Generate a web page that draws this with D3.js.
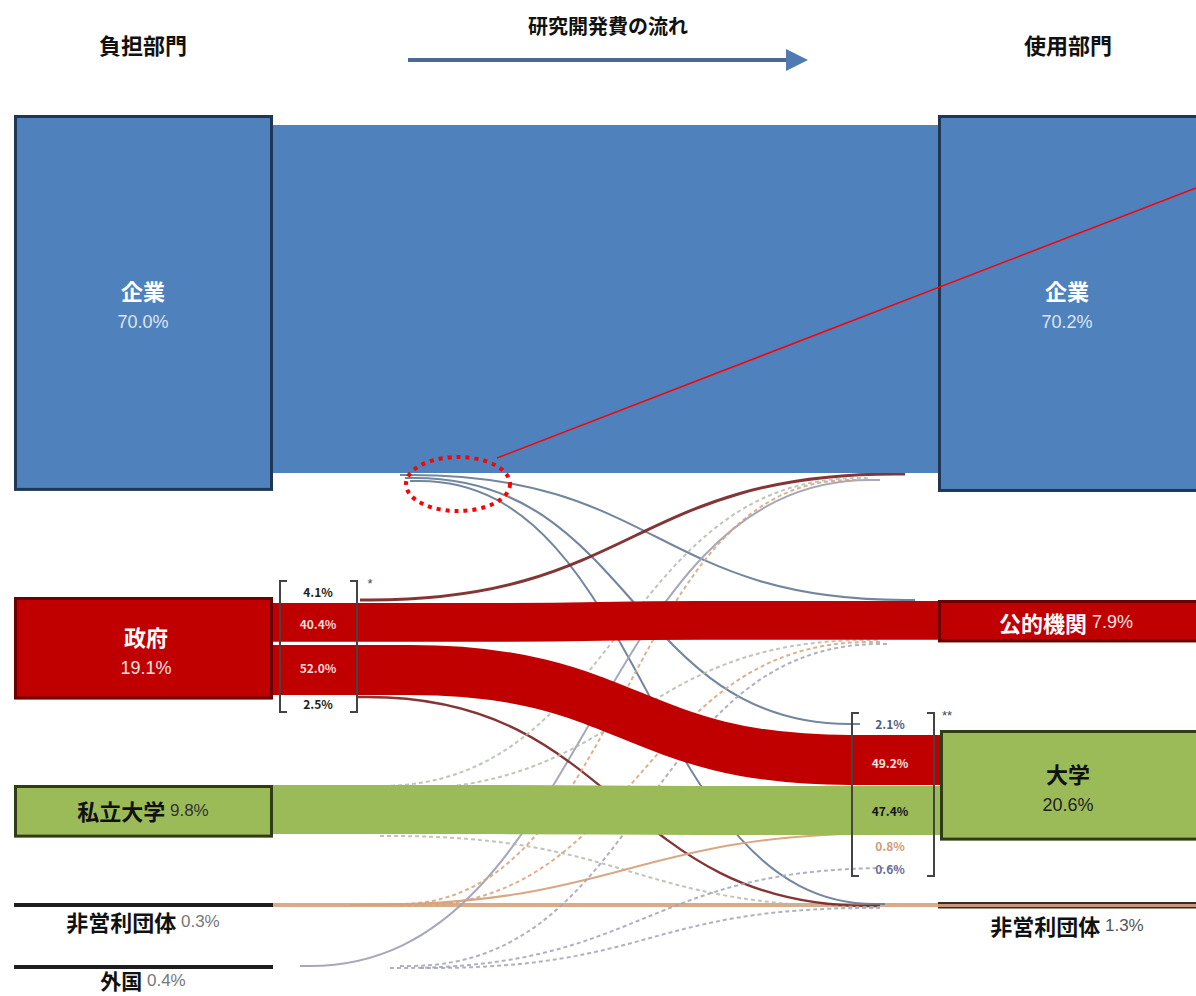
<!DOCTYPE html>
<html lang="ja">
<head>
<meta charset="utf-8">
<script src="https://cdn.jsdelivr.net/npm/d3@7"></script>
<style>
  html, body { margin: 0; padding: 0; background: #fff; }
  svg { display: block; }
  text { font-family: "Noto Sans CJK JP", "Noto Sans", sans-serif; }
</style>
</head>
<body>
<svg id="chart" width="1196" height="996"></svg>
<script>
// 負担部門 (funding sectors) and their shares of total R&D expenditure (%)
const sources = ["企業", "政府", "私立大学", "非営利団体", "外国"];
const sourceShares = [70.0, 19.1, 9.8, 0.3, 0.4];

// 使用部門 (performing sectors) and their shares (%)
const targets = ["企業", "公的機関", "大学", "非営利団体"];
const targetShares = [70.2, 7.9, 20.6, 1.3];

// * breakdown of government funding by performing sector (%)
const govTargets = ["企業", "公的機関", "大学", "非営利団体"];
const govSplit = [4.1, 40.4, 52.0, 2.5];

// ** breakdown of university funding by funding sector (%)
const univSources = ["企業", "政府", "私立大学", "非営利団体", "外国"];
const univSplit = [2.1, 49.2, 47.4, 0.8, 0.6];

// remaining flows, % of total
const otherSources = ["企業", "企業", "企業", "私立大学", "私立大学", "私立大学", "非営利団体", "非営利団体", "非営利団体", "外国", "外国", "外国"];
const otherTargets = ["企業", "公的機関", "非営利団体", "企業", "公的機関", "非営利団体", "非営利団体", "企業", "公的機関", "企業", "公的機関", "非営利団体"];
const otherValues = [69.2, 0.1, 0.3, 0.05, 0.02, 0.02, 0.15, 0.02, 0.01, 0.2, 0.02, 0.02];

const svg = d3.select("#chart");

const nodeScale = d3.scaleLinear().domain([0, 100]).range([0, 537]);
const flowScale = d3.scaleLinear().domain([0, 100]).range([0, 503]);

// build link list
const links = [];
govSplit.forEach((p, i) => links.push({ s: "政府", t: govTargets[i], v: sourceShares[1] * p / 100 }));
univSplit.forEach((p, i) => {
  if (univSources[i] !== "政府") links.push({ s: univSources[i], t: "大学", v: targetShares[2] * p / 100 });
});
otherSources.forEach((s, i) => links.push({ s, t: otherTargets[i], v: otherValues[i] }));
const linkOf = (s, t) => links.find(l => l.s === s && l.t === t) || { s, t, v: 0 };

// layout
const leftX0 = 14, leftX1 = 273, rightX0 = 938, rightX1 = 1196;
const leftTop = { "企業": 115, "政府": 597, "私立大学": 785, "非営利団体": 905, "外国": 967 };
const rightTop = { "企業": 115, "公的機関": 600, "大学": 730, "非営利団体": 905 };

const colors = {
  "企業": { fill: "#4f81bd", stroke: "#1f3654", thin: "#6c7f98" },
  "政府": { fill: "#c00000", stroke: "#6a0000", thin: "#7d2a2a" },
  "私立大学": { fill: "#9bbb59", stroke: "#2f3c14", thin: "#b3bcad" },
  "非営利団体": { fill: "#222", stroke: "#111", thin: "#d6a27c" },
  "外国": { fill: "#222", stroke: "#111", thin: "#a2a3b6" },
  "公的機関": { fill: "#c00000", stroke: "#6a0000" },
  "大学": { fill: "#9bbb59", stroke: "#2f3c14" }
};

// horizontal run, cubic bend, horizontal run
function flowPath(x0, y0, xa, xb, y1, x1) {
  const p = d3.path();
  p.moveTo(x0, y0);
  p.lineTo(xa, y0);
  const xm = (xa + xb) / 2;
  p.bezierCurveTo(xm, y0, xm, y1, xb, y1);
  p.lineTo(x1, y1);
  return p.toString();
}

const gFlows = svg.append("g");

// thick bands
function band(s, t, yTopL, yTopR, xa, xb) {
  const l = linkOf(s, t);
  const w = flowScale(l.v);
  gFlows.append("path")
    .attr("d", flowPath(leftX1, yTopL + w / 2, xa, xb, yTopR + w / 2, rightX0 + 2))
    .attr("fill", "none")
    .attr("stroke", colors[s].fill)
    .attr("stroke-width", w);
}

// thin lines: source, target, start point, end point, dashed
const thin = [
  ["企業", "公的機関", [400, 475], [915, 600], false],
  ["企業", "大学", [405, 478], [860, 724], false],
  ["企業", "非営利団体", [410, 481], [885, 904], false],
  ["外国", "企業", [300, 966], [880, 480], false],
  ["政府", "企業", [360, 600], [905, 474], false],
  ["政府", "非営利団体", [358, 697], [880, 906], false],
  ["私立大学", "企業", [370, 786], [870, 478], true],
  ["私立大学", "公的機関", [380, 790], [880, 640], true],
  ["私立大学", "非営利団体", [380, 836], [880, 907], true],
  ["非営利団体", "大学", [350, 905], [905, 833], false],
  ["非営利団体", "企業", [390, 904], [860, 480], true],
  ["非営利団体", "公的機関", [400, 906], [880, 642], true],
  ["外国", "大学", [390, 968], [900, 868], true],
  ["外国", "公的機関", [400, 966], [890, 644], true],
  ["外国", "非営利団体", [420, 968], [880, 908], true]
];

// 非営利団体 straight run
gFlows.append("path")
  .attr("d", flowPath(leftX1, 905, 400, 800, 905, rightX0))
  .attr("fill", "none").attr("stroke", "#d9ab88").attr("stroke-width", 4);

thin.forEach(([s, t, a, b, dashed]) => {
  const l = linkOf(s, t);
  gFlows.append("path")
    .attr("d", flowPath(a[0], a[1], a[0] + 10, b[0] - 10, b[1], b[0]))
    .attr("fill", "none")
    .attr("stroke", colors[s].thin)
    .attr("stroke-width", Math.max(2, Math.min(3, flowScale(l.v))))
    .attr("stroke-dasharray", dashed ? "4 3" : null)
    .attr("opacity", dashed ? 0.85 : 0.95);
});

band("企業", "企業", 125, 125, 500, 700);
band("政府", "公的機関", 603, 601, 500, 700);
band("私立大学", "大学", 785, 786, 500, 700);
band("政府", "大学", 645, 735, 410, 850);

// nodes
const gNodes = svg.append("g");
sources.forEach((name, i) => {
  const h = nodeScale(sourceShares[i]);
  const y = leftTop[name];
  if (h < 10) {
    gNodes.append("rect").attr("x", leftX0).attr("y", y - 2).attr("width", leftX1 - leftX0).attr("height", 4)
      .attr("fill", "#1e1e1e");
  } else {
    gNodes.append("rect").attr("x", leftX0 + 1.5).attr("y", y + 1.5)
      .attr("width", leftX1 - leftX0 - 3).attr("height", h - 3)
      .attr("fill", colors[name].fill).attr("stroke", colors[name].stroke).attr("stroke-width", 3);
  }
});
targets.forEach((name, i) => {
  const h = nodeScale(targetShares[i]);
  const y = rightTop[name];
  const x0 = name === "大学" ? rightX0 + 2 : rightX0;
  if (h < 10) {
    gNodes.append("rect").attr("x", x0).attr("y", y - 3).attr("width", rightX1 - x0).attr("height", 6)
      .attr("fill", "#c69878");
    gNodes.append("rect").attr("x", x0).attr("y", y - 3).attr("width", rightX1 - x0).attr("height", 2)
      .attr("fill", "#3a2a20");
    gNodes.append("rect").attr("x", x0).attr("y", y + 2).attr("width", rightX1 - x0).attr("height", 1.5)
      .attr("fill", "#3a2a20");
  } else {
    gNodes.append("rect").attr("x", x0 + 1.5).attr("y", y + 1.5)
      .attr("width", rightX1 - x0 + 4).attr("height", h - 3)
      .attr("fill", colors[name].fill).attr("stroke", colors[name].stroke).attr("stroke-width", 3);
  }
});

// labels
const gText = svg.append("g");
function label(x, y, parts, anchor = "middle") {
  const t = gText.append("text").attr("x", x).attr("y", y).attr("text-anchor", anchor)
    .attr("dominant-baseline", "central");
  parts.forEach(p => {
    t.append("tspan").text(p.text)
      .attr("font-size", p.size)
      .attr("font-weight", p.bold ? 700 : 400)
      .attr("fill", p.fill)
      .attr("font-family", p.bold ? null : "'Liberation Sans', Arial, sans-serif");
  });
  return t;
}
const pct = v => v.toFixed(1) + "%";

// column headers and flow arrow
label(143, 44, [{ text: "負担部門", size: 22, bold: true, fill: "#111" }]);
label(1068, 44, [{ text: "使用部門", size: 22, bold: true, fill: "#111" }]);
label(608, 25, [{ text: "研究開発費の流れ", size: 20, bold: true, fill: "#111" }]);
svg.append("line").attr("x1", 408).attr("y1", 60).attr("x2", 786).attr("y2", 60)
  .attr("stroke", "#4a6a92").attr("stroke-width", 4);
svg.append("path").attr("d", "M786,49 L808,60 L786,71 Z").attr("fill", "#4f7bb0");

// node labels
label(143, 290, [{ text: sources[0], size: 22, bold: true, fill: "#fff" }]);
label(143, 322, [{ text: pct(sourceShares[0]), size: 18, fill: "#dbe6f4" }]);
label(1067, 290, [{ text: targets[0], size: 22, bold: true, fill: "#fff" }]);
label(1067, 322, [{ text: pct(targetShares[0]), size: 18, fill: "#dbe6f4" }]);
label(146, 636, [{ text: sources[1], size: 22, bold: true, fill: "#fff" }]);
label(146, 668, [{ text: pct(sourceShares[1]), size: 18, fill: "#fde0e0" }]);
label(143, 810, [{ text: sources[2], size: 22, bold: true, fill: "#111" }, { text: " " + pct(sourceShares[2]), size: 17, fill: "#333" }]);
label(143, 921, [{ text: sources[3], size: 22, bold: true, fill: "#111" }, { text: " " + pct(sourceShares[3]), size: 17, fill: "#777" }]);
label(143, 980, [{ text: sources[4], size: 21, bold: true, fill: "#111" }, { text: " " + pct(sourceShares[4]), size: 17, fill: "#777" }]);
label(1066, 622, [{ text: targets[1], size: 22, bold: true, fill: "#fff" }, { text: " " + pct(targetShares[1]), size: 18, fill: "#ffe4e4" }]);
label(1068, 773, [{ text: targets[2], size: 22, bold: true, fill: "#111" }]);
label(1068, 805, [{ text: pct(targetShares[2]), size: 18, fill: "#222" }]);
label(1067, 925, [{ text: targets[3], size: 22, bold: true, fill: "#111" }, { text: " " + pct(targetShares[3]), size: 17, fill: "#555" }]);

// brackets with breakdowns
function bracket(x0, x1, y0, y1, mark) {
  const g = svg.append("g").attr("fill", "none").attr("stroke", "#444").attr("stroke-width", 2);
  g.append("path").attr("d", `M${x0 + 7},${y0} H${x0} V${y1} H${x0 + 7}`);
  g.append("path").attr("d", `M${x1 - 7},${y0} H${x1} V${y1} H${x1 - 7}`);
  label(x1 + 13, y0 + 2, [{ text: mark, size: 13, fill: "#444" }]);
}
bracket(280, 357, 581, 712, "*");
const govLabelY = [591, 623, 667, 703];
const govLabelFill = ["#222", "#ffdcdc", "#ffdcdc", "#222"];
govSplit.forEach((p, i) => label(318, govLabelY[i], [{ text: pct(p), size: 12, bold: true, fill: govLabelFill[i] }]));

bracket(852, 934, 713, 876, "**");
const univLabelY = [723, 762, 810, 845, 868];
const univLabelFill = ["#4a5f86", "#ffe0e0", "#111", "#d29a78", "#6a6f96"];
univSplit.forEach((p, i) => label(890, univLabelY[i], [{ text: pct(p), size: 12, bold: true, fill: univLabelFill[i] }]));

// highlight on the small flows leaving 企業
svg.append("ellipse").attr("cx", 458).attr("cy", 484).attr("rx", 52).attr("ry", 27)
  .attr("fill", "none").attr("stroke", "#ff0000").attr("stroke-width", 4).attr("stroke-dasharray", "4 5");
svg.append("line").attr("x1", 497).attr("y1", 458).attr("x2", 1196).attr("y2", 188)
  .attr("stroke", "#ff0000").attr("stroke-width", 1.5);
</script>
</body>
</html>
